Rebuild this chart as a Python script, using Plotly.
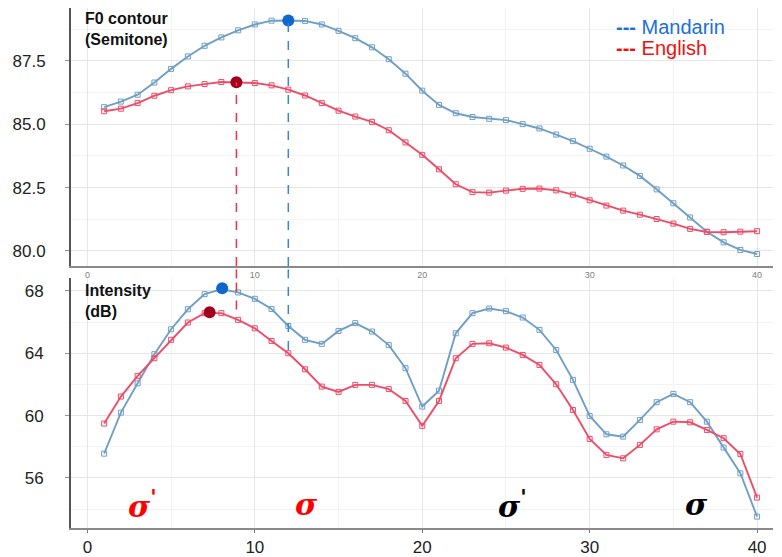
import plotly.graph_objects as go

# ---------------- data ----------------
frames = list(range(1, 41))

f0_mandarin = [85.67, 85.89, 86.16, 86.64, 87.18, 87.67, 88.09, 88.42, 88.70, 88.93,
               89.08, 89.09, 89.07, 88.93, 88.68, 88.39, 88.03, 87.56, 86.99, 86.32,
               85.76, 85.43, 85.28, 85.21, 85.16, 85.00, 84.83, 84.59, 84.33, 84.03,
               83.72, 83.37, 82.96, 82.43, 81.88, 81.32, 80.76, 80.34, 80.04, 79.88]

f0_english = [85.51, 85.61, 85.83, 86.12, 86.34, 86.49, 86.58, 86.66, 86.64, 86.62,
              86.53, 86.36, 86.13, 85.83, 85.53, 85.30, 85.09, 84.76, 84.28, 83.79,
              83.22, 82.63, 82.32, 82.30, 82.38, 82.45, 82.46, 82.39, 82.22, 82.00,
              81.79, 81.59, 81.43, 81.26, 81.08, 80.87, 80.75, 80.74, 80.76, 80.78]

int_mandarin = [57.56, 60.19, 62.07, 63.94, 65.54, 66.82, 67.79, 68.10, 67.90, 67.49,
                66.84, 65.75, 64.86, 64.60, 65.43, 65.93, 65.39, 64.52, 63.04, 60.58,
                61.60, 65.28, 66.57, 66.87, 66.70, 66.29, 65.50, 64.21, 62.29, 59.98,
                58.80, 58.65, 59.72, 60.86, 61.39, 60.86, 59.61, 57.95, 56.30, 53.52]

int_english = [59.49, 61.22, 62.55, 63.68, 64.86, 65.97, 66.57, 66.57, 66.14, 65.60,
               64.79, 64.00, 62.97, 61.86, 61.52, 61.97, 61.97, 61.70, 60.94, 59.34,
               60.94, 63.68, 64.60, 64.64, 64.36, 63.89, 63.25, 62.01, 60.36, 58.50,
               57.48, 57.26, 58.12, 59.12, 59.61, 59.57, 59.08, 58.55, 57.54, 54.74]

# peak markers (x, y)
f0_peak_mandarin = (12.0, 89.09)
f0_peak_english = (8.9, 86.65)
int_peak_mandarin = (8.05, 68.17)
int_peak_english = (7.3, 66.63)

# ends of the dashed connecting lines in the intensity panel
int_dash_end_mandarin = 64.2
int_dash_end_english = 66.8

# syllable labels
syll_x = [3.3, 13.1, 25.4, 36.4]
syll_y = [54.3, 54.3, 54.3, 54.3]
syll_text = ["σ<sup>'</sup>", "σ", "σ<sup>'</sup>", "σ"]
syll_color = ["#ff0000", "#ff0000", "#000000", "#000000"]

legend_names = ["Mandarin", "English"]
legend_colors = ["#1d6fd6", "#ee1111"]

x_ticks = [0, 10, 20, 30, 40]
f0_ticks = [80.0, 82.5, 85.0, 87.5]
f0_ticktext = ["80.0", "82.5", "85.0", "87.5"]
int_ticks = [56, 60, 64, 68]

X_RANGE = [-0.98, 40.95]
F0_RANGE = [79.41, 89.58]
INT_RANGE = [52.79, 68.8]

# ---------------- styles ----------------
BLUE = "#6f9fc6"
RED = "#ef4c68"
BLUE_DOT = "#0f66cc"
RED_DOT = "#a3001c"
BLUE_DASH = "#3a86d6"
RED_DASH = "#ee3344"
GRID = "#e6e6e6"
MINOR = "#f3f3f3"

TOP_DOM = [0.504, 1.0]
BOT_DOM = [0.0, 0.480]

fig = go.Figure()

def series(x, y, color, xa, ya, name):
    fig.add_trace(go.Scatter(
        x=x, y=y, mode="lines+markers", xaxis=xa, yaxis=ya, showlegend=False, name=name,
        line=dict(color=color, width=1.9),
        marker=dict(symbol="square-open", size=5, color=color, line=dict(width=1)),
        hoverinfo="x+y"))

series(frames, f0_mandarin, BLUE, "x", "y", "Mandarin")
series(frames, f0_english, RED, "x", "y", "English")
series(frames, int_mandarin, BLUE, "x2", "y2", "Mandarin")
series(frames, int_english, RED, "x2", "y2", "English")

# dashed connectors: top panel part, gap part, bottom panel part
for (px, py), yend, col in [(f0_peak_mandarin, int_dash_end_mandarin, BLUE_DASH),
                            (f0_peak_english, int_dash_end_english, RED_DASH)]:
    dash = dict(color=col, width=1.5, dash="dash")
    fig.add_shape(type="line", xref="x", yref="y", x0=px, x1=px, y0=F0_RANGE[0], y1=py, line=dash)
    fig.add_shape(type="line", xref="x", yref="paper", x0=px, x1=px, y0=BOT_DOM[1], y1=TOP_DOM[0], line=dash)
    fig.add_shape(type="line", xref="x2", yref="y2", x0=px, x1=px, y0=yend, y1=INT_RANGE[1], line=dash)

# peak dots
for (px, py), col, xa, ya in [(f0_peak_mandarin, BLUE_DOT, "x", "y"),
                              (f0_peak_english, RED_DOT, "x", "y"),
                              (int_peak_mandarin, BLUE_DOT, "x2", "y2"),
                              (int_peak_english, RED_DOT, "x2", "y2")]:
    fig.add_trace(go.Scatter(x=[px], y=[py], mode="markers", xaxis=xa, yaxis=ya,
                             showlegend=False, marker=dict(size=12, color=col),
                             hoverinfo="x+y"))

# legend (text style, as in the original)
for i, (nm, col) in enumerate(zip(legend_names, legend_colors)):
    fig.add_annotation(x=0.7735, y=0.9635 - i * 0.0405, xref="paper", yref="paper",
                       xanchor="left", yanchor="middle", showarrow=False,
                       text="<b>---</b> " + nm, font=dict(size=20, color=col, family="Liberation Sans"))

# syllable labels
for sx, sy, st, sc in zip(syll_x, syll_y, syll_text, syll_color):
    fig.add_annotation(x=sx, y=sy, xref="x2", yref="y2", text="<b><i>" + st + "</i></b>",
                       showarrow=False, font=dict(size=30, color=sc, family="DejaVu Serif"))

# panel titles
fig.add_annotation(x=0.017, y=1.0, xref="paper", yref="paper", xanchor="left", yanchor="top",
                   text="<b>F0 contour<br>(Semitone)</b>", showarrow=False, align="left",
                   font=dict(size=16, color="#111111", family="Liberation Sans"))
fig.add_annotation(x=0.017, y=0.476, xref="paper", yref="paper", xanchor="left", yanchor="top",
                   text="<b>Intensity<br>(dB)</b>", showarrow=False, align="left",
                   font=dict(size=16, color="#111111", family="Liberation Sans"))

fig.update_layout(
    # the page body adds an 8px offset, so the figure is 8px smaller and margins shifted
    width=774, height=549,
    margin=dict(l=63, r=9, t=0, b=29),
    paper_bgcolor="white", plot_bgcolor="white",
    font=dict(family="Liberation Sans", color="#222222"),
    xaxis=dict(domain=[0, 1], anchor="y", range=X_RANGE, tickvals=x_ticks,
               ticks="", tickfont=dict(size=9, color="#808080"),
               showline=True, linecolor="#8a8a8a", linewidth=1.5,
               minor=dict(showgrid=True, gridcolor=MINOR, dtick=5, tick0=0),
               showgrid=True, gridcolor=GRID, zeroline=False),
    yaxis=dict(domain=TOP_DOM, anchor="x", range=F0_RANGE, tickvals=f0_ticks, ticktext=f0_ticktext,
               ticks="outside", ticklen=4, tickcolor="#999999", ticklabelstandoff=16,
               tickfont=dict(size=17, color="#222222"),
               showline=True, linecolor="#555555", linewidth=2,
               minor=dict(showgrid=True, gridcolor=MINOR, dtick=1.25, tick0=80),
               showgrid=True, gridcolor=GRID, zeroline=False),
    xaxis2=dict(domain=[0, 1], anchor="y2", range=X_RANGE, tickvals=x_ticks,
                ticks="outside", ticklen=3, tickcolor="#777777",
                tickfont=dict(size=17, color="#222222"),
                showline=True, linecolor="#8a8a8a", linewidth=1.5,
                minor=dict(showgrid=True, gridcolor=MINOR, dtick=5, tick0=0),
                showgrid=True, gridcolor=GRID, zeroline=False),
    yaxis2=dict(domain=BOT_DOM, anchor="x2", range=INT_RANGE, tickvals=int_ticks,
                ticks="outside", ticklen=4, tickcolor="#999999", ticklabelstandoff=18,
                tickfont=dict(size=17, color="#222222"),
                showline=True, linecolor="#555555", linewidth=2,
                minor=dict(showgrid=True, gridcolor=MINOR, dtick=2, tick0=54),
                showgrid=True, gridcolor=GRID, zeroline=False),
    showlegend=False,
)

fig.write_html("out.html")
